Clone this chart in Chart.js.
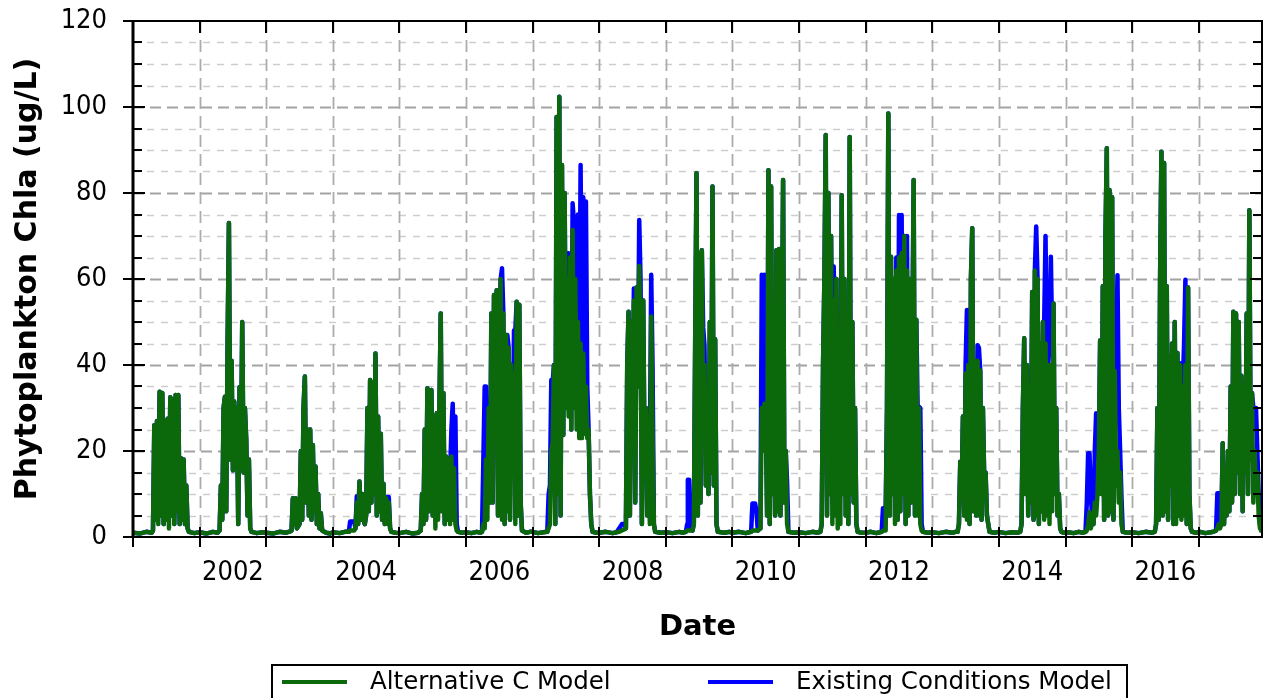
<!DOCTYPE html>
<html>
<head>
<meta charset="utf-8">
<script src="https://cdn.jsdelivr.net/npm/chart.js@4.4.1/dist/chart.umd.min.js"></script>
<style>
  html, body { margin: 0; padding: 0; background: #fff; }
  #msg { position: absolute; left: 300px; top: 300px; color: red; font: 20px sans-serif; }
</style>
</head>
<body>
<canvas id="chla" width="1265" height="698"></canvas>
<div id="msg"></div>
<script>
// decimal years, one line per year
const dates = [
  2001.00,2001.10,2001.20,2001.28,2001.30,2001.32,2001.34,2001.36,2001.38,2001.40,2001.42,2001.44,2001.46,2001.48,2001.50,2001.52,2001.54,2001.56,2001.58,2001.60,2001.62,2001.64,2001.66,2001.68,2001.70,2001.72,2001.74,2001.76,2001.78,2001.80,2001.82,2001.84,2001.92,
  2002.00,2002.10,2002.20,2002.27,2002.30,2002.32,2002.34,2002.36,2002.38,2002.40,2002.42,2002.44,2002.46,2002.48,2002.50,2002.52,2002.54,2002.56,2002.58,2002.60,2002.62,2002.64,2002.66,2002.68,2002.70,2002.72,2002.74,2002.76,2002.78,2002.86,2002.94,
  2003.00,2003.10,2003.20,2003.30,2003.36,2003.38,2003.40,2003.42,2003.44,2003.46,2003.48,2003.50,2003.52,2003.54,2003.56,2003.58,2003.60,2003.62,2003.64,2003.66,2003.68,2003.70,2003.72,2003.74,2003.76,2003.78,2003.80,2003.82,2003.84,2003.90,2003.96,
  2004.00,2004.10,2004.18,2004.24,2004.26,2004.28,2004.30,2004.32,2004.34,2004.36,2004.38,2004.40,2004.42,2004.44,2004.46,2004.48,2004.50,2004.52,2004.54,2004.56,2004.58,2004.60,2004.62,2004.64,2004.66,2004.68,2004.70,2004.72,2004.74,2004.76,2004.78,2004.80,2004.82,2004.84,2004.86,2004.88,2004.94,
  2005.00,2005.10,2005.20,2005.28,2005.32,2005.34,2005.36,2005.38,2005.40,2005.42,2005.44,2005.46,2005.48,2005.50,2005.52,2005.54,2005.56,2005.58,2005.60,2005.62,2005.64,2005.66,2005.68,2005.70,2005.72,2005.74,2005.76,2005.78,2005.80,2005.82,2005.84,2005.86,2005.88,2005.94,
  2006.00,2006.08,2006.16,2006.22,2006.24,2006.26,2006.28,2006.30,2006.32,2006.34,2006.36,2006.38,2006.40,2006.42,2006.44,2006.46,2006.48,2006.50,2006.52,2006.54,2006.56,2006.58,2006.60,2006.62,2006.64,2006.66,2006.68,2006.70,2006.72,2006.74,2006.76,2006.78,2006.80,2006.82,2006.84,2006.90,2006.96,
  2007.00,2007.08,2007.16,2007.22,2007.24,2007.26,2007.28,2007.30,2007.32,2007.34,2007.36,2007.38,2007.40,2007.42,2007.44,2007.46,2007.48,2007.50,2007.52,2007.54,2007.56,2007.58,2007.60,2007.62,2007.64,2007.66,2007.68,2007.70,2007.72,2007.74,2007.76,2007.78,2007.80,2007.82,2007.84,2007.86,2007.88,2007.90,2007.96,
  2008.00,2008.10,2008.20,2008.26,2008.30,2008.34,2008.38,2008.40,2008.42,2008.44,2008.46,2008.48,2008.50,2008.52,2008.54,2008.56,2008.58,2008.60,2008.62,2008.64,2008.66,2008.68,2008.70,2008.72,2008.74,2008.76,2008.78,2008.80,2008.82,2008.84,2008.92,
  2009.00,2009.10,2009.20,2009.26,2009.30,2009.32,2009.33,2009.35,2009.37,2009.40,2009.42,2009.44,2009.46,2009.48,2009.50,2009.52,2009.54,2009.56,2009.58,2009.60,2009.62,2009.64,2009.66,2009.68,2009.70,2009.72,2009.74,2009.76,2009.78,2009.88,2009.95,
  2010.00,2010.10,2010.20,2010.25,2010.28,2010.30,2010.32,2010.34,2010.36,2010.38,2010.40,2010.42,2010.44,2010.46,2010.48,2010.50,2010.52,2010.54,2010.56,2010.58,2010.60,2010.62,2010.64,2010.66,2010.68,2010.70,2010.72,2010.74,2010.76,2010.78,2010.80,2010.82,2010.84,2010.92,
  2011.00,2011.10,2011.20,2011.28,2011.32,2011.34,2011.36,2011.38,2011.40,2011.42,2011.44,2011.46,2011.48,2011.50,2011.52,2011.54,2011.56,2011.58,2011.60,2011.62,2011.64,2011.66,2011.68,2011.70,2011.72,2011.74,2011.76,2011.78,2011.80,2011.82,2011.84,2011.86,2011.88,2011.94,
  2012.00,2012.08,2012.16,2012.21,2012.24,2012.26,2012.28,2012.30,2012.32,2012.34,2012.36,2012.38,2012.40,2012.42,2012.44,2012.46,2012.48,2012.50,2012.52,2012.54,2012.56,2012.58,2012.60,2012.62,2012.64,2012.66,2012.68,2012.70,2012.72,2012.74,2012.76,2012.78,2012.80,2012.82,2012.84,2012.86,2012.93,
  2013.00,2013.10,2013.20,2013.30,2013.35,2013.38,2013.40,2013.42,2013.44,2013.46,2013.48,2013.50,2013.52,2013.54,2013.56,2013.58,2013.60,2013.62,2013.64,2013.66,2013.68,2013.70,2013.72,2013.74,2013.76,2013.78,2013.80,2013.82,2013.84,2013.86,2013.93,
  2014.00,2014.10,2014.20,2014.28,2014.32,2014.34,2014.36,2014.38,2014.40,2014.42,2014.44,2014.46,2014.48,2014.50,2014.52,2014.54,2014.56,2014.58,2014.60,2014.62,2014.64,2014.66,2014.68,2014.70,2014.72,2014.74,2014.76,2014.78,2014.80,2014.82,2014.84,2014.86,2014.88,2014.90,2014.92,2014.94,2014.97,
  2015.04,2015.12,2015.20,2015.26,2015.30,2015.32,2015.34,2015.36,2015.38,2015.40,2015.42,2015.44,2015.46,2015.48,2015.50,2015.52,2015.54,2015.56,2015.58,2015.60,2015.62,2015.64,2015.66,2015.68,2015.70,2015.72,2015.74,2015.76,2015.78,2015.80,2015.82,2015.84,2015.86,2015.93,
  2016.00,2016.10,2016.20,2016.30,2016.34,2016.36,2016.38,2016.40,2016.42,2016.44,2016.46,2016.48,2016.50,2016.52,2016.54,2016.56,2016.58,2016.60,2016.62,2016.64,2016.66,2016.68,2016.70,2016.72,2016.74,2016.76,2016.78,2016.80,2016.82,2016.84,2016.86,2016.88,2016.90,2016.96,
  2017.02,2017.10,2017.18,2017.22,2017.26,2017.28,2017.30,2017.32,2017.34,2017.36,2017.38,2017.40,2017.42,2017.44,2017.46,2017.48,2017.50,2017.52,2017.54,2017.56,2017.58,2017.60,2017.62,2017.64,2017.66,2017.68,2017.70,2017.72,2017.74,2017.76,2017.78,2017.80,2017.82,2017.84,2017.86,2017.88,2017.90,2017.92,2017.95
];

// Alternative C Model, chla ug/L
const altC = [
  1.0,0.8,1.2,1.0,1.5,26,4,27,3,33.8,5,33.5,3,27,4,27.5,2,32.5,5,32,3,33,6,33,3,18.3,4,18,3,12,2,1.2,0.9,
  1.1,0.8,1.2,1.0,1.5,12,4,30,32.6,6,45,73,18,41,15.5,31.5,16,30,3,34.8,16,50,15,30,22.6,5,18,2,1.2,0.9,1.1,
  1.0,0.8,1.2,1.0,1.3,1.5,9,3,9,2,2.5,3,20,4,30,37.3,8,25,5,25,4,21.4,6,16.4,3,10,2,5.5,1.5,1.0,0.8,
  1.1,0.9,1.2,1.2,1.5,1.5,1.5,1.5,2,8,3,12.9,4,10,4,3,5,30,6,36.5,8,36,10,42.7,5,28,6,24,4,12.4,3,9,3,8,2,1.2,1.0,
  0.9,1.2,0.8,1.0,1.5,10,3,25,4,34.6,6,30,34.2,5,28,2,28.8,4,30,52,6,33.5,3,18.7,4,18,3,18.7,4,16,3,1.5,1.2,1.0,
  1.1,0.9,1.2,1.0,1.2,3,2,18,4,30,8,52,8,56.3,25,57.4,5,45,60,4,52,3,47,6,44,4,40,20,38,3,54.7,5,54,8,1.5,1.0,1.2,
  1.2,0.9,1.1,1.2,2,3,20,22,40,3,97.7,10,102.4,5,86.5,23.7,80,30,60,28,65,25,71.4,30,60,25,50,23,45,23,42.7,24,35,23,25,10,3,1.2,1.0,
  1.0,1.2,0.9,1.1,1.2,1.5,1.8,2,40,52.4,5,50,30,55,8,58,35,63,45,3,55,18.7,30,5,15,3,51.3,25,3,1.2,1.0,
  1.1,0.9,1.2,1.0,1.2,1.5,1.5,1.5,1.5,1.5,3,45,84.6,5,66,8,66.7,25,40,12,30,10,50,15,81.5,12,46,3,1.2,1.0,1.2,
  1.0,1.2,0.9,1.1,1.2,1.5,1.5,1.5,1.5,1.5,1.8,2,30,20,31,30,5,85.3,3,81.5,10,50,5,66.7,6,67,5,40,83,8,20,3,1.2,1.0,
  1.1,0.9,1.2,1.0,1.2,3,40,60,93.5,5,80,10,70,3,55,5,60,2,45,3,79.5,10,60,5,40,3,93,10,50,8,30,3,1.2,1.0,
  1.0,1.2,0.9,1.1,1.2,1.5,1.5,1.5,30,98.5,5,65.2,10,60,3,62,4,65,6,66,10,70,3,62,5,60,8,45,83,5,50.5,5,30,3,1.5,1.2,1.0,
  1.1,0.9,1.2,1.0,1.2,1.2,3,17.5,10,28,5,38,4,40,3,60,71.8,6,41,5,41,5,38.7,4,30,13,15,5,3,1.2,1.0,
  1.2,0.9,1.1,1.0,1.2,3,30,46.2,10,40,5,25,8,57,4,62,5,60,3,45,6,50,4,45,5,40,3,40,6,54.3,10,30,5,10,2,1.2,1.0,
  1.1,0.9,1.2,1.0,1.2,1.5,3,5.8,2,4,3,8,5,10,20,45.7,10,58.3,4,70,90.4,5,80.7,6,79,4,38.6,12,20,8,15,3,1.2,1.0,
  1.1,0.9,1.2,1.0,1.2,3,30,4,60,89.6,5,87,6,58.3,4,42,12,45,3,50,3,42.8,5,40,4,35,5,40,3,58,10,2,1.2,1.0,
  1.2,0.9,1.1,1.2,1.5,2,3,2,3,21.8,3,15,5,20,6,35,8,52.4,10,52,15,50,10,37.5,6,35,15,52,10,76,18,33.5,8,20,10,15,5,2,1.2
];

// Existing Conditions Model, chla ug/L
const existing = [
  1.0,0.8,1.2,1.0,1.5,26,4,27,12,33.8,5,33.5,3,27,9,27.5,7,32.5,5,32,3,33,6,33,3,18.3,4,18,3,12,2,1.2,0.9,
  1.1,0.8,1.2,1.0,1.5,12,4,30,32.6,6,45,73,18,41,15.5,31.5,16,30,3,34.8,16,50,15,30,22.6,5,18,2,1.2,0.9,1.1,
  1.0,0.8,1.2,1.0,1.3,1.5,9,3,9,2,2.5,3,20,4,30,37.3,8,25,5,25,4,21.4,6,16.4,3,10,2,5.5,1.5,1.0,0.8,
  1.1,0.9,1.2,1.2,3.6,3.6,3.6,3.6,2,9.5,3,12.9,4,10,4,3,5,30,6,36.5,8,36,10,42.7,5,28,6,24,4,12.4,3,9,9.3,9.3,2,1.2,1.0,
  0.9,1.2,0.8,1.0,1.5,10,3,25,4,34.6,6,30,34.2,5,28,8,28.8,7,30,52,6,33.5,3,18.7,4,18,14,25,31,14,28,3,1.2,1.0,
  1.1,0.9,1.2,1.0,1.2,18,35,35,18.7,30,8,52,8,56.3,25,57.4,5,45,60,62.5,52,3,47,47,44,4,40,20,48,48,54.7,5,54,8,1.5,1.0,1.2,
  1.2,0.9,1.1,1.2,10,12,36.5,36,40,3,97.7,10,102.4,5,86.5,23.7,80,30,66,66,65,25,77.6,73,70,40,75,38,86.5,40,79,37,78,35,25,10,3,1.2,1.0,
  1.0,1.2,0.9,1.1,2,3,3,2,40,52.4,5,50,30,57.8,8,58,35,73.7,60,3,55,18.7,30,5,23,20,61,40,3,1.2,1.0,
  1.1,0.9,1.2,1.0,1.2,3,13.3,13.3,2,1.5,3,45,84.6,5,66,8,66.7,48.8,44.5,12,30,10,50,15,81.5,12,46,3,1.2,1.0,1.2,
  1.0,1.2,0.9,1.1,1.2,7.8,7.8,7.8,6,1.5,1.8,2,61,31,61,30,5,85.3,3,81.5,10,50,5,66.7,6,67,5,40,83,8,20,12.8,1.2,1.0,
  1.1,0.9,1.2,1.0,1.2,3,40,60,93.5,5,80,10,70,41,62.9,45,60,13,45,13,79.5,10,60,5,40,3,93,10,50,8,30,3,1.2,1.0,
  1.0,1.2,0.9,1.1,1.2,6.7,6.7,6.7,30,98.5,5,65.2,10,60,5,65,4,74.9,6,74.9,10,70,3,70,5,60,8,45,83,5,50.5,30,30.3,30,3,1.2,1.0,
  1.1,0.9,1.2,1.0,1.2,1.2,3,17.5,10,28,5,40,52.8,45,3,60,71.8,6,41,5,44.6,44,38.7,4,30,13,15,5,3,1.2,1.0,
  1.2,0.9,1.1,1.0,1.2,3,30,46.2,10,40,5,30,20,57,4,62,72.2,60,3,45,6,50,50,70,40,40,45,65.2,45,54.3,10,30,5,10,2,1.2,1.0,
  1.1,0.9,1.2,1.0,1.2,8,19.5,19.5,10,4,3,20,28.8,28,20,45.7,10,58.3,4,70,90.4,5,80.7,6,79,4,38.6,40,60.9,30,20,9.4,1.2,1.0,
  1.1,0.9,1.2,1.0,1.2,3,30,4,60,89.6,5,87,6,58.3,4,42,12,45,3,50,5,42.8,5,40.4,25,35,45,59.8,3,58,10,2,1.2,1.0,
  1.2,0.9,1.1,1.2,1.5,10.2,10.2,4,3,21.8,3,15,5,20,6,35,8,52.4,10,52,15,50,10,37.5,6,35,15,52,10,76,18,33.5,30,25,30,20,10,3,1.2
];

const seriesNames = ["Alternative C Model", "Existing Conditions Model"];
const seriesColors = ["#0b690b", "#0000ff"];
const labelYears = [2002, 2004, 2006, 2008, 2010, 2012, 2014, 2016];
const yTickValues = [0, 20, 40, 60, 80, 100, 120];
const xRange = [2001, 2017.95];

if (dates.length !== altC.length || dates.length !== existing.length) {
  document.getElementById("msg").textContent =
    "length mismatch " + dates.length + " / " + altC.length + " / " + existing.length;
}

const TICK_FONT = "'DejaVu Sans Condensed', 'DejaVu Sans', sans-serif";
const TEXT_FONT = "'DejaVu Sans', sans-serif";

// dashed grid under the data, black frame and tick marks over it
const framePlugin = {
  id: "frame",
  beforeDatasetsDraw(chart) {
    const { ctx, chartArea: a, scales } = chart;
    const x = scales.x, y = scales.y;
    ctx.save();
    for (let v = 5; v < 120; v += 5) {
      const py = Math.round(y.getPixelForValue(v)) + 0.5;
      const major = v % 20 === 0;
      ctx.strokeStyle = major ? "#a3a3a3" : "#cdcdcd";
      ctx.lineWidth = major ? 2 : 1.5;
      ctx.setLineDash(major ? [11, 6] : [7, 7]);
      ctx.beginPath();
      ctx.moveTo(a.left, py);
      ctx.lineTo(a.right, py);
      ctx.stroke();
    }
    ctx.strokeStyle = "#acacac";
    ctx.lineWidth = 1.8;
    ctx.setLineDash([12, 7]);
    for (let yr = Math.ceil(xRange[0]) + 1; yr < xRange[1]; yr++) {
      const px = Math.round(x.getPixelForValue(yr)) + 0.5;
      ctx.beginPath();
      ctx.moveTo(px, a.top);
      ctx.lineTo(px, a.bottom);
      ctx.stroke();
    }
    ctx.restore();
  },
  afterDatasetsDraw(chart) {
    const { ctx, chartArea: a, scales } = chart;
    const x = scales.x, y = scales.y;
    ctx.save();
    ctx.strokeStyle = "#000";
    ctx.lineWidth = 2;
    ctx.strokeRect(a.left, a.top, a.right - a.left, a.bottom - a.top);
    ctx.beginPath();
    ctx.lineWidth = 3;
    ctx.moveTo(a.left, a.top);
    ctx.lineTo(a.left, a.bottom);
    ctx.stroke();
    ctx.lineWidth = 2;
    for (let v = 0; v <= 120; v += 5) {
      const py = Math.round(y.getPixelForValue(v));
      const major = v % 20 === 0;
      ctx.beginPath();
      ctx.moveTo(a.left - (major ? 10 : 1), py);
      ctx.lineTo(a.left + (major ? 12 : 9), py);
      ctx.moveTo(a.right - (major ? 12 : 9), py);
      ctx.lineTo(a.right, py);
      ctx.stroke();
    }
    for (let yr = Math.ceil(xRange[0]); yr < xRange[1]; yr++) {
      const px = Math.round(x.getPixelForValue(yr));
      ctx.beginPath();
      ctx.moveTo(px, a.bottom + 10);
      ctx.lineTo(px, a.bottom - 10);
      ctx.moveTo(px, a.top);
      ctx.lineTo(px, a.top + 12);
      ctx.stroke();
    }
    ctx.restore();
  }
};

// boxed legend at the bottom
const boxLegend = {
  id: "boxLegend",
  afterDraw(chart) {
    const ctx = chart.ctx;
    ctx.save();
    ctx.strokeStyle = "#000";
    ctx.lineWidth = 2;
    ctx.strokeRect(272, 665, 855, 45);
    ctx.font = "24.5px " + TEXT_FONT;
    ctx.textBaseline = "middle";
    ctx.fillStyle = "#000";
    chart.data.datasets.forEach((ds, i) => {
      const x0 = i === 0 ? 282 : 708;
      ctx.strokeStyle = ds.borderColor;
      ctx.lineWidth = 4;
      ctx.beginPath();
      ctx.moveTo(x0, 682);
      ctx.lineTo(x0 + 65, 682);
      ctx.stroke();
      ctx.fillText(ds.label, x0 + 88, 683);
    });
    ctx.restore();
  }
};

const toPoints = (vals) => dates.map((d, i) => ({ x: d, y: vals[i] }));

new Chart(document.getElementById("chla"), {
  type: "line",
  data: {
    datasets: [
      {
        label: seriesNames[0],
        data: toPoints(altC),
        borderColor: seriesColors[0],
        backgroundColor: seriesColors[0],
        borderWidth: 4.5,
        borderJoinStyle: "round",
        pointRadius: 0,
        tension: 0
      },
      {
        label: seriesNames[1],
        data: toPoints(existing),
        borderColor: seriesColors[1],
        backgroundColor: seriesColors[1],
        borderWidth: 4.5,
        borderJoinStyle: "round",
        pointRadius: 0,
        tension: 0
      }
    ]
  },
  options: {
    responsive: false,
    animation: false,
    layout: { padding: { top: 21, right: 3, bottom: 50, left: 0 } },
    plugins: {
      legend: { display: false },
      tooltip: { enabled: false }
    },
    scales: {
      x: {
        type: "linear",
        min: xRange[0],
        max: xRange[1],
        afterBuildTicks: (s) => { s.ticks = labelYears.map((v) => ({ value: v + 0.5 })); },
        afterFit: (s) => { s.height = 111; },
        grid: { display: false, drawTicks: false },
        border: { display: false },
        ticks: {
          autoSkip: false,
          maxRotation: 0,
          padding: 20,
          color: "#000",
          font: { family: TICK_FONT, size: 27 },
          callback: (v) => String(Math.floor(v))
        },
        title: {
          display: true,
          text: "Date",
          color: "#000",
          font: { family: TEXT_FONT, size: 29, weight: "bold" },
          padding: { top: 0, bottom: 3 }
        }
      },
      y: {
        min: 0,
        max: 120,
        afterBuildTicks: (s) => { s.ticks = yTickValues.map((v) => ({ value: v })); },
        afterFit: (s) => {
          s.width = 133;
          s.paddingTop = 10;
          s.paddingBottom = 10;
        },
        grid: { display: false, drawTicks: false },
        border: { display: false },
        ticks: {
          padding: 26,
          color: "#000",
          font: { family: TICK_FONT, size: 27 }
        },
        title: {
          display: true,
          text: "Phytoplankton Chla (ug/L)",
          color: "#000",
          font: { family: TEXT_FONT, size: 30, weight: "bold" },
          padding: { top: 10, bottom: 0 }
        }
      }
    }
  },
  plugins: [framePlugin, boxLegend]
});
</script>
</body>
</html>
